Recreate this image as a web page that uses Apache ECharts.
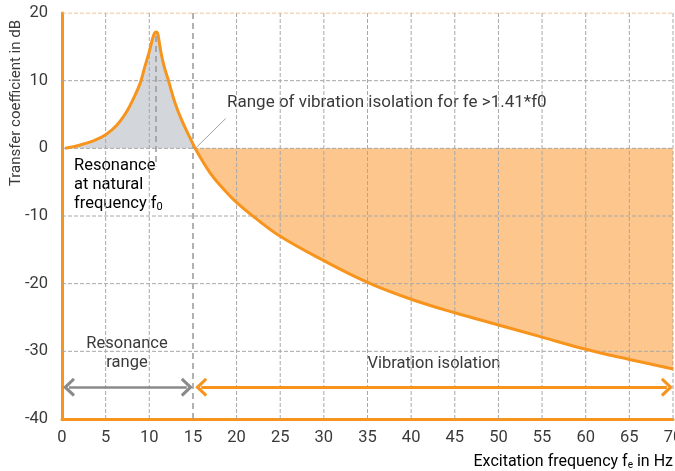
<!DOCTYPE html>
<html>
<head>
<meta charset="utf-8">
<title>Transfer coefficient</title>
<script src="https://cdn.jsdelivr.net/npm/echarts@6/dist/echarts.min.js"></script>
<style>
  html, body { margin: 0; padding: 0; background: #fff; }
  #chart { width: 675px; height: 471px; }
</style>
</head>
<body>
<div id="chart"></div>
<script>
// resonance part of the curve (0 .. f where it crosses 0 dB)
var resFreq = [0.35, 2.1, 3.6, 5.0, 6.3, 7.4, 8.2, 8.95, 9.5, 10.0, 10.4, 10.6, 10.78, 10.95, 11.1, 11.35, 11.7, 12.2, 12.95, 13.7, 14.5, 15.25];
var resGain = [0.0, 0.5, 1.1, 2.0, 3.45, 5.4, 7.4, 9.6, 12.1, 14.3, 16.3, 17.0, 17.2, 17.0, 16.0, 14.1, 12.1, 10.0, 6.7, 4.2, 2.0, 0.0];
// isolation part
var isoFreq = [15.25, 17, 18.5, 20, 21.95, 25, 30, 35, 40, 45, 50, 55, 60, 65, 70];
var isoGain = [0.0, -3.7, -6.0, -8.0, -10.1, -13.0, -16.6, -19.8, -22.3, -24.3, -26.1, -27.9, -29.7, -31.2, -32.6];

var xTicks = [0, 5, 10, 15, 20, 25, 30, 35, 40, 45, 50, 55, 60, 65, 70];
var yTicks = [-40, -30, -20, -10, 0, 10, 20];

var orange = '#f7941d';
var grey = '#8a8a8a';
var textCol = '#3a3a3a';
var font = 'Roboto';
var fs = 16.5;
var chevron = 'path://M0,10 L10,0 L20,10 L17.5,12 L10,4.5 L2.5,12 Z';

function pairs(xs, ys) {
  return xs.map(function (x, i) { return [x, ys[i]]; });
}

// thin dashed grid lines drawn as series so they sit above the filled areas
var gridSeries = [];
xTicks.slice(1).forEach(function (v) {
  if (v === 15) return;
  gridSeries.push({
    type: 'line', silent: true, symbol: 'none', z: 4,
    data: [[v, yTicks[0]], [v, yTicks[yTicks.length - 1]]],
    lineStyle: { color: '#a8a8a8', width: 1, type: [4, 2] }
  });
});
yTicks.slice(1).forEach(function (v) {
  gridSeries.push({
    type: 'line', silent: true, symbol: 'none', z: 4,
    data: [[xTicks[0], v], [xTicks[xTicks.length - 1], v]],
    lineStyle: { color: v === 20 ? '#e8b27a' : '#a8a8a8', width: 1, type: [4, 2] }
  });
});

var chart = echarts.init(document.getElementById('chart'));

chart.setOption({
  animation: false,
  grid: { left: 62, right: 2, top: 13, bottom: 52, containLabel: false, outerBoundsMode: 'none' },
  xAxis: {
    type: 'value',
    min: xTicks[0], max: xTicks[xTicks.length - 1], interval: 5,
    axisLine: { show: true, onZero: false, lineStyle: { color: orange, width: 3 } },
    axisTick: { show: false },
    axisLabel: { color: textCol, fontFamily: font, fontSize: fs, margin: 10 },
    splitLine: { show: false }
  },
  yAxis: {
    type: 'value',
    min: yTicks[0], max: yTicks[yTicks.length - 1], interval: 10,
    axisLine: { show: true, onZero: false, lineStyle: { color: orange, width: 3 } },
    axisTick: { show: false },
    axisLabel: { color: textCol, fontFamily: font, fontSize: fs, margin: 14 },
    splitLine: { show: false }
  },
  series: [
    {
      name: 'resonance area',
      type: 'line',
      data: pairs(resFreq, resGain),
      smooth: 0.4,
      symbol: 'none',
      lineStyle: { width: 0 },
      areaStyle: { color: '#d3d6da', opacity: 1, origin: 'auto' },
      z: 2,
      markLine: {
        silent: true,
        symbol: 'none',
        label: { show: false },
        z: 4,
        data: [
          { xAxis: 15, lineStyle: { color: '#999', width: 1.5, type: [6, 4] } }
        ]
      }
    },
    {
      name: 'isolation area',
      type: 'line',
      data: pairs(isoFreq, isoGain),
      smooth: 0.4,
      symbol: 'none',
      lineStyle: { width: 0 },
      areaStyle: { color: '#fdc68c', opacity: 1, origin: 'auto' },
      z: 2
    },
    {
      name: 'resonance',
      type: 'line',
      data: pairs(resFreq, resGain),
      smooth: 0.4,
      symbol: 'none',
      lineStyle: { color: orange, width: 3 },
      z: 6,
      markLine: {
        silent: true,
        symbol: 'none',
        label: { show: false },
        z: 5,
        data: [
          [{ coord: [10.72, 16.6] }, { coord: [10.72, -2.7] }]
        ],
        lineStyle: { color: '#999', width: 1.5, type: [6, 4] }
      }
    },
    {
      name: 'isolation',
      type: 'line',
      data: pairs(isoFreq, isoGain),
      smooth: 0.4,
      symbol: 'none',
      lineStyle: { color: orange, width: 3 },
      z: 6,
      markLine: {
        silent: true,
        label: { show: false },
        z: 7,
        data: [
          [{ coord: [0.8, -35.3], lineStyle: { color: grey, width: 2.5, type: 'solid' }, symbol: chevron },
           { coord: [14.3, -35.3], symbol: chevron }],
          [{ coord: [15.95, -35.3], lineStyle: { color: orange, width: 3, type: 'solid' }, symbol: chevron },
           { coord: [69.3, -35.3], symbol: chevron }],
          [{ coord: [15.4, 0.15], lineStyle: { color: '#888', width: 0.8, type: 'solid' }, symbol: 'none' },
           { coord: [18.75, 4.4], symbol: 'none' }]
        ],
        symbolSize: [19, 12]
      }
    }
  ].concat(gridSeries),
  graphic: [
    {
      type: 'text', x: 16, y: 103, rotation: Math.PI / 2,
      style: { text: 'Transfer coefficient in dB', fill: textCol, font: '15px ' + font, textAlign: 'center', textVerticalAlign: 'middle' }
    },
    {
      type: 'text', x: 673, y: 462,
      style: {
        text: '{a|Excitation frequency f}{s|e}{a| in Hz}',
        textAlign: 'right', textVerticalAlign: 'middle',
        rich: {
          a: { fontFamily: font, fontSize: 16, color: textCol },
          s: { fontFamily: font, fontSize: 10, color: textCol, padding: [6, 0, 0, 0] }
        }
      }
    },
    {
      type: 'text', x: 227, y: 103,
      style: { text: 'Range of vibration isolation for fe >1.41*f0', fill: textCol, font: '17px ' + font, textVerticalAlign: 'middle' }
    },
    {
      type: 'text', x: 74, y: 156,
      style: {
        text: '{a|Resonance}\n{a|at natural}\n{a|frequency f}{s|0}',
        rich: {
          a: { fontFamily: font, fontSize: fs, color: textCol, lineHeight: 19 },
          s: { fontFamily: font, fontSize: 11, color: textCol, lineHeight: 19, padding: [7, 0, 0, 0] }
        }
      }
    },
    {
      type: 'text', x: 127, y: 353,
      style: { text: 'Resonance\nrange', fill: textCol, font: fs + 'px ' + font, lineHeight: 19, textAlign: 'center', textVerticalAlign: 'middle' }
    },
    {
      type: 'text', x: 434, y: 364,
      style: { text: 'Vibration isolation', fill: textCol, font: fs + 'px ' + font, textAlign: 'center', textVerticalAlign: 'middle' }
    }
  ]
});
</script>
</body>
</html>
